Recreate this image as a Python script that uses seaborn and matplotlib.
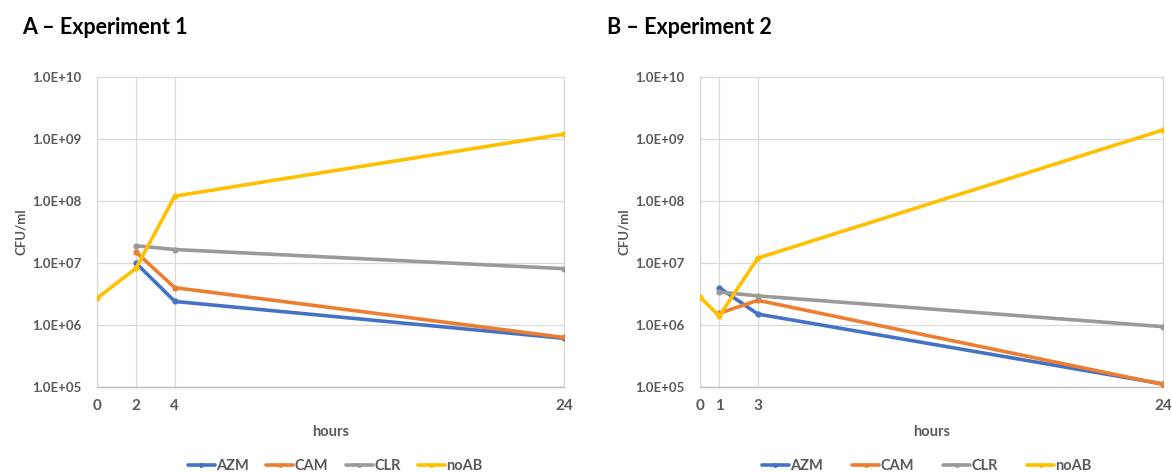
import numpy as np
import pandas as pd
import matplotlib
matplotlib.use("Agg")
import matplotlib.pyplot as plt
import seaborn as sns
from matplotlib.ticker import FuncFormatter, MultipleLocator, LogLocator, NullLocator
from matplotlib.lines import Line2D

# ---------------- data ----------------
treatments = ["AZM", "CAM", "CLR", "noAB"]

# Experiment 1
hours_1 = [0, 2, 4, 24]
exp1_azm = [np.nan, 1.0e7, 2.4e6, 6.1e5]
exp1_cam = [np.nan, 1.5e7, 4.0e6, 6.3e5]
exp1_clr = [np.nan, 1.9e7, 1.65e7, 8.1e6]
exp1_noab = [2.7e6, 8.2e6, 1.2e8, 1.2e9]

# Experiment 2
hours_2 = [0, 1, 3, 24]
exp2_azm = [np.nan, 4.0e6, 1.5e6, 1.12e5]
exp2_cam = [np.nan, 1.55e6, 2.5e6, 1.1e5]
exp2_clr = [np.nan, 3.4e6, 2.95e6, 9.4e5]
exp2_noab = [2.8e6, 1.4e6, 1.2e7, 1.4e9]

palette = {"AZM": "#4472C4", "CAM": "#ED7D31", "CLR": "#9A9A9A", "noAB": "#FFC000"}
grey_txt = "#595959"


def long_df(hours, series):
    rows = []
    for name, vals in zip(treatments, series):
        for h, v in zip(hours, vals):
            if not np.isnan(v):
                rows.append({"hours": h, "cfu": v, "treatment": name})
    return pd.DataFrame(rows)


df1 = long_df(hours_1, [exp1_azm, exp1_cam, exp1_clr, exp1_noab])
df2 = long_df(hours_2, [exp2_azm, exp2_cam, exp2_clr, exp2_noab])

sns.set_style("white")
plt.rcParams["font.family"] = ["Lato", "DejaVu Sans"]

fig = plt.figure(figsize=(11.72, 4.72), dpi=100)
ax_a = fig.add_axes([97 / 1172, 1 - 387 / 472, 467 / 1172, 310 / 472])
ax_b = fig.add_axes([700 / 1172, 1 - 387 / 472, 463 / 1172, 310 / 472])


def sci_fmt(v, pos):
    e = int(round(np.log10(v)))
    return f"1.0E+{e:02d}"


def style_panel(ax, df, xticks, title, title_x, legend_x, colsp):
    sns.lineplot(data=df, x="hours", y="cfu", hue="treatment", hue_order=treatments,
                 palette=palette, marker="o", markersize=4.5, markeredgewidth=0,
                 linewidth=2.6, ax=ax, legend=False, zorder=3)
    ax.set_yscale("log")
    ax.set_ylim(1e5, 1e10)
    ax.set_xlim(0, 24)
    ax.yaxis.set_major_locator(LogLocator(base=10, numticks=10))
    ax.yaxis.set_minor_locator(NullLocator())
    ax.yaxis.set_major_formatter(FuncFormatter(sci_fmt))
    ax.set_xticks(xticks)
    ax.xaxis.set_minor_locator(MultipleLocator(1))
    ax.grid(True, which="major", color="#D9D9D9", linewidth=0.9, zorder=0)
    ax.tick_params(axis="y", length=0, pad=11, labelsize=9.5, labelcolor=grey_txt)
    ax.tick_params(axis="x", which="major", direction="in", length=5, width=0.8,
                   color="#BFBFBF", pad=9, labelsize=11, labelcolor=grey_txt)
    ax.tick_params(axis="x", which="minor", direction="in", length=5, width=0.8,
                   color="#BFBFBF")
    for lab in ax.get_xticklabels() + ax.get_yticklabels():
        lab.set_fontweight("bold")
    for side in ["top", "right", "left"]:
        ax.spines[side].set_color("#D9D9D9")
        ax.spines[side].set_linewidth(0.9)
    ax.spines["bottom"].set_color("#BFBFBF")
    ax.spines["bottom"].set_linewidth(1.0)
    ax.set_xlabel("hours", fontsize=10.5, fontweight="bold", color=grey_txt, labelpad=8)
    ax.set_ylabel("CFU/ml", fontsize=9.5, fontweight="bold", color=grey_txt, labelpad=4)
    fig.text(title_x, 1 - 27 / 472, title, fontsize=15.5, fontweight="bold",
             ha="left", va="center", color="black")
    handles = [Line2D([0], [0], color=palette[t], linewidth=2.6, marker="o",
                      markersize=3.5, markeredgewidth=0) for t in treatments]
    leg = ax.legend(handles, treatments, loc="center", ncol=4, frameon=False,
                    bbox_to_anchor=(legend_x, -0.255), handlelength=1.85,
                    handletextpad=0.1, columnspacing=colsp, fontsize=10.5)
    for t in leg.get_texts():
        t.set_color(grey_txt)
        t.set_fontweight("bold")


style_panel(ax_a, df1, hours_1, "A – Experiment 1", 22 / 1172, 0.51, 1.2)
style_panel(ax_b, df2, hours_2, "B – Experiment 2", 607 / 1172, 0.49, 2.0)

fig.savefig("out.png", dpi=100)
